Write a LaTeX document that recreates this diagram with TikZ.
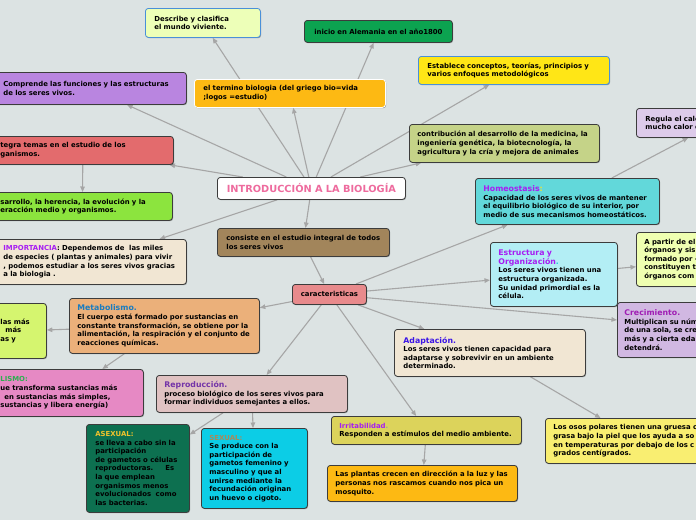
\documentclass[tikz,border=0pt]{standalone}
\usepackage{fontspec}
\setmainfont{DejaVu Sans}
\usetikzlibrary{arrows.meta,shadows}
\definecolor{bgc}{HTML}{DCE3E3}
\definecolor{lineg}{HTML}{A6A6A6}
\definecolor{boxline}{HTML}{3C3C3C}
\definecolor{cBlue}{HTML}{4A90D9}
\definecolor{cDesc}{HTML}{EDFFB8}
\definecolor{cInicio}{HTML}{0CA350}
\definecolor{cOrange}{HTML}{FDB913}
\definecolor{cComp}{HTML}{B985E0}
\definecolor{cYellow}{HTML}{FFE616}
\definecolor{cRed}{HTML}{E36B6D}
\definecolor{cGreen}{HTML}{8CE43E}
\definecolor{cBeige}{HTML}{F1E6D3}
\definecolor{cBrown}{HTML}{A2855B}
\definecolor{cOlive}{HTML}{C5D388}
\definecolor{cLav}{HTML}{DDCBEA}
\definecolor{cTeal}{HTML}{62D8DA}
\definecolor{cLCyan}{HTML}{B3EEF5}
\definecolor{cLYG}{HTML}{EFFFB1}
\definecolor{cCrec}{HTML}{D1B8E2}
\definecolor{cCar}{HTML}{E88A8C}
\definecolor{cMetab}{HTML}{EBB07A}
\definecolor{cLime}{HTML}{D5F56F}
\definecolor{cPink}{HTML}{E689C4}
\definecolor{cRepro}{HTML}{E0C2C2}
\definecolor{cDkGreen}{HTML}{0D7050}
\definecolor{cSexual}{HTML}{0CCDE6}
\definecolor{cIrrit}{HTML}{DCD35B}
\definecolor{cOsos}{HTML}{F9EE71}
\definecolor{titlepink}{HTML}{EE6B9E}
\definecolor{cPurple}{HTML}{A61EF2}
\definecolor{cYelDot}{HTML}{F5E12A}
\definecolor{cCyanDot}{HTML}{20C8E0}
\definecolor{cCrecT}{HTML}{A01EB4}
\definecolor{cAdapt}{HTML}{3A14E6}
\definecolor{cMetabT}{HTML}{1A7CC0}
\definecolor{cLismo}{HTML}{2DB050}
\definecolor{cReproT}{HTML}{7434A8}
\definecolor{cAsexT}{HTML}{F0C22C}
\definecolor{cSexT}{HTML}{A8895C}
\definecolor{cGrayDot}{HTML}{9A9A9A}
\newcommand\bxfont{\fontsize{6.9}{8.6}\selectfont\bfseries}
\newcommand\hd[2]{{\fontsize{7.8}{10}\selectfont\textcolor{#1}{#2}}}
\pgfdeclarelayer{bglayer}
\pgfdeclarelayer{edgelayer}
\pgfsetlayers{bglayer,edgelayer,main}
\tikzset{
  box/.style={draw=boxline, line width=0.8pt, rounded corners=3pt, anchor=north west,
    align=left, inner xsep=8pt, inner ysep=2pt, font=\bxfont, text=black,
    drop shadow={shadow xshift=0.7pt, shadow yshift=-0.8pt, opacity=0.35, fill=black}},
  conn/.style={draw=lineg, line width=1.1pt, -{Triangle[length=5.5pt,width=4.5pt]}},
}
\begin{document}
\begin{tikzpicture}[x=1pt,y=-1pt]
\useasboundingbox (0,0) rectangle (696,520);
\begin{pgfonlayer}{bglayer}
\fill[bgc] (0,0) rectangle (696,520);
\end{pgfonlayer}

% top nodes
\node[box, fill=cDesc, draw=cBlue, inner xsep=9pt, minimum height=29pt, text width=97pt] (describe) at (145,8) {Describe y clasifica\\el mundo viviente.};
\node[box, fill=cInicio, minimum height=22pt, text width=132pt, align=center] (inicio) at (304,20) {inicio en Alemania en el año1800};
\node[box, fill=cOrange, draw=white, inner xsep=9pt, minimum height=28pt, text width=173pt] (termino) at (194,79) {el termino biologia (del griego bio=vida\\;logos =estudio)};
\node[box, fill=cComp, minimum height=32pt, text width=175pt] (comprende) at (-5,72) {Comprende las funciones y las estructuras\\de los seres vivos.};
\node[box, fill=cYellow, draw=cBlue, inner xsep=9pt, minimum height=28pt, text width=173pt] (establece) at (418,56) {Establece conceptos, teorías, principios y\\varios enfoques metodológicos};

% left column
\node[box, fill=cRed, minimum height=28pt, text width=165pt] (integra) at (-8,136) {tegra temas en el estudio de los\\ganismos.};
\node[box, fill=cGreen, minimum height=28pt, text width=164pt] (desarr) at (-8,192) {sarrollo, la herencia, la evolución y la\\eracción medio y organismos.};
\node[box, fill=cBeige, minimum height=45pt, text width=175pt] (importancia) at (-5,239) {\textcolor{cPurple}{IMPORTANCIA}: Dependemos de\ \ las miles\\de especies ( plantas y animales) para vivir\\, podemos estudiar a los seres vivos gracias\\a la biologia .};

% centre
\node[box, fill=white, minimum height=22pt, text width=172pt, align=center, font=\fontsize{9.8}{11}\selectfont\bfseries, text=titlepink] (title) at (217,177) {INTRODUCCIÓN A LA BIOLOGÍA};
\node[box, fill=cBrown, inner xsep=9pt, minimum height=28pt, text width=154pt] (consiste) at (217,228) {consiste en el estudio integral de todos\\los seres vivos};
\node[box, fill=cCar, minimum height=20pt, text width=58pt, align=center] (caract) at (292,284) {caracteristicas};

% right side
\node[box, fill=cOlive, minimum height=38pt, text width=174pt] (contrib) at (409,124) {contribución al desarrollo de la medicina, la\\ingeniería genética, la biotecnología, la\\agricultura y la cría y mejora de animales};
\node[box, fill=cLav, inner xsep=9pt, minimum height=29pt, text width=142pt] (regula) at (636,108) {Regula el calor\\mucho calor e};
\node[box, fill=cTeal, minimum height=46pt, text width=168pt] (homeo) at (475,178) {\hd{cPurple}{Homeostasis}\hd{cYelDot}{:}\\Capacidad de los seres vivos de mantener\\el equilibrio biológico de su interior, por\\medio de sus mecanismos homeostáticos.};
\node[box, fill=cLCyan, minimum height=64pt, text width=111pt] (estructura) at (490,242) {\hd{cPurple}{Estructura y}\\\hd{cPurple}{Organización}\hd{cCyanDot}{.}\\Los seres vivos tienen una\\estructura organizada.\\Su unidad primordial es la\\célula.};
\node[box, fill=cLYG, minimum height=54pt, text width=142pt] (apartir) at (636,232) {A partir de el\\órganos y sis\\formado por -\\constituyen t\\órganos com};
\node[box, fill=cCrec, inner xsep=7pt, minimum height=55pt, text width=209pt] (crec) at (617,302) {\hd{cCrecT}{Crecimiento.}\\Multiplican su núm\\de una sola, se cre\\más y a cierta eda\\detendrá.};
\node[box, fill=cBeige, inner xsep=9pt, minimum height=47pt, text width=173pt] (adapt) at (394,329) {\hd{cAdapt}{Adaptación.}\\Los seres vivos tienen capacidad para\\adaptarse y sobrevivir en un ambiente\\determinado.};
\node[box, fill=cOsos, minimum height=45pt, text width=172pt] (osos) at (545,418) {Los osos polares tienen una gruesa c\\grasa bajo la piel que los ayuda a so\\en temperaturas por debajo de los c\\grados centígrados.};

% lower left
\node[box, fill=cMetab, minimum height=55pt, text width=174pt] (metab) at (69,298) {\hd{cMetabT}{Metabolismo.}\\El cuerpo está formado por sustancias en\\constante transformación, se obtiene por la\\alimentación, la respiración y el conjunto de\\reacciones químicas.};
\node[box, fill=cLime, minimum height=55pt, text width=38pt] (lime) at (-8,303) {las más\\\mbox{}\kern5pt más\\as y};
\node[box, fill=cPink, minimum height=47pt, text width=135pt] (pink) at (-8,369) {\textcolor{cLismo}{LISMO:}\\ue transforma sustancias más\\\mbox{}\kern4pt en sustancias más simples,\\sustancias y libera energía)};
\node[box, fill=cRepro, minimum height=37pt, text width=175pt] (repro) at (156,375) {\hd{cReproT}{Reproducción.}\\proceso biológico de los seres vivos para\\formar individuos semejantes a ellos.};
\node[box, fill=cDkGreen, inner xsep=9pt, minimum height=88pt, text width=85pt] (asexual) at (86,424) {\textcolor{cAsexT}{ASEXUAL:}\\se lleva a cabo sin la\\participación\\de gametos o células\\reproductoras.\hspace{12pt}Es\\la que emplean\\organismos menos\\evolucionados\ \ como\\las bacterias.};
\node[box, fill=cSexual, minimum height=80pt, text width=90pt] (sexual) at (201,428) {\textcolor{cSexT}{SEXUAL:}\\Se produce con la\\participación de\\gametos femenino y\\masculino y que al\\unirse mediante la\\fecundación originan\\un huevo o cigoto.};
\node[box, fill=cIrrit, minimum height=28pt, text width=174pt] (irrit) at (331,416) {\textcolor{cPurple}{Irritabilidad}\textcolor{cGrayDot}{.}\\Responden a estímulos del medio ambiente.};
\node[box, fill=cOrange, minimum height=36pt, text width=174pt] (plantas) at (327,465) {Las plantas crecen en dirección a la luz y las\\personas nos rascamos cuando nos pica un\\mosquito.};

\begin{pgfonlayer}{edgelayer}
\draw[conn] (title) -- (describe);
\draw[conn] (title) -- (inicio);
\draw[conn] (title) -- (termino);
\draw[conn] (title) -- (comprende);
\draw[conn] (title) -- (establece);
\draw[conn] (title) -- (integra);
\draw[conn] (title) -- (importancia);
\draw[conn] (title) -- (consiste);
\draw[conn] (title) -- (contrib);
\draw[conn] (integra) -- (desarr);
\draw[conn] (consiste) -- (caract);
\draw[conn] (caract) -- (homeo);
\draw[conn] (caract) -- (estructura);
\draw[conn] (caract) -- (crec);
\draw[conn] (caract) -- (adapt);
\draw[conn] (caract) -- (irrit);
\draw[conn] (caract) -- (repro);
\draw[conn] (caract) -- (metab);
\draw[conn] (homeo) -- (regula);
\draw[conn] (estructura) -- (apartir);
\draw[conn] (adapt) -- (osos);
\draw[conn] (irrit) -- (plantas);
\draw[conn] (metab) -- (lime);
\draw[conn] (metab) -- (pink);
\draw[conn] (repro) -- (asexual);
\draw[conn] (repro) -- (sexual);
\end{pgfonlayer}
\end{tikzpicture}
\end{document}
